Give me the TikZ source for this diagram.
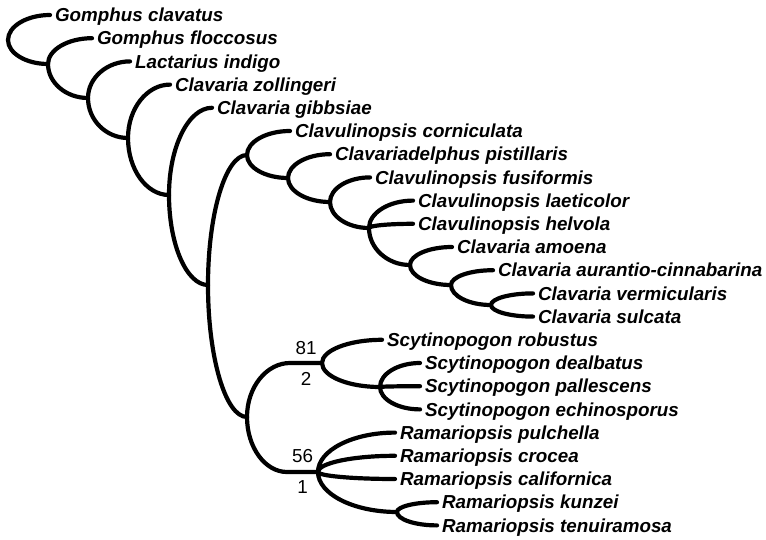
\documentclass[tikz,border=0pt]{standalone}
\usepackage{fontspec}
\setmainfont{Liberation Sans}
\usetikzlibrary{calc}

\begin{document}
\begin{tikzpicture}[x=1pt,y=-1pt,line width=4.2pt,line cap=round,
  taxon/.style={anchor=west,inner sep=3pt,text height=13.4pt,text depth=0pt,font=\fontsize{18.8}{22}\selectfont\bfseries\itshape},
  supp/.style={inner sep=2pt,font=\fontsize{18.8}{22}\selectfont},
  arm/.style={to path={.. controls ($(\tikztostart)!.55!(\tikztostart|-\tikztotarget)$) and ($(\tikztotarget)!.55!(\tikztostart|-\tikztotarget)$) .. (\tikztotarget)}}]
\useasboundingbox (0,0) rectangle (766,540);
\node[taxon] (gc) at (50,15) {Gomphus clavatus};
\node[taxon] (gf) at (92,38.2) {Gomphus floccosus};
\node[taxon] (li) at (130,61.4) {Lactarius indigo};
\node[taxon] (cz) at (170,84.6) {Clavaria zollingeri};
\node[taxon] (cg) at (212,107.8) {Clavaria gibbsiae};
\node[taxon] (cc) at (290,131) {Clavulinopsis corniculata};
\node[taxon] (cp) at (330,154.2) {Clavariadelphus pistillaris};
\node[taxon] (cf) at (370,177.4) {Clavulinopsis fusiformis};
\node[taxon] (cl) at (413,200.6) {Clavulinopsis laeticolor};
\node[taxon] (ch) at (413,223.8) {Clavulinopsis helvola};
\node[taxon] (ca) at (452,247) {Clavaria amoena};
\node[taxon] (cac) at (493,270.2) {Clavaria aurantio-cinnabarina};
\node[taxon] (cv) at (533,293.4) {Clavaria vermicularis};
\node[taxon] (cs) at (533,316.6) {Clavaria sulcata};
\node[taxon] (sr) at (382,339.8) {Scytinopogon robustus};
\node[taxon] (sd) at (420,363) {Scytinopogon dealbatus};
\node[taxon] (sp) at (420,386.2) {Scytinopogon pallescens};
\node[taxon] (se) at (420,409.4) {Scytinopogon echinosporus};
\node[taxon] (rp) at (395,432.6) {Ramariopsis pulchella};
\node[taxon] (rc) at (395,455.8) {Ramariopsis crocea};
\node[taxon] (rca) at (395,479) {Ramariopsis californica};
\node[taxon] (rk) at (437,502.2) {Ramariopsis kunzei};
\node[taxon] (rt) at (437,525.4) {Ramariopsis tenuiramosa};
\coordinate (n1) at (8,40);
\coordinate (n2) at (48,64);
\coordinate (n3) at (88,98);
\coordinate (n4) at (128,138);
\coordinate (n5) at (169,195);
\coordinate (n6) at (208,285);
\coordinate (n7) at (247,155);
\coordinate (n9) at (288,178);
\coordinate (n10) at (330,202);
\coordinate (n11) at (369,228);
\coordinate (n12) at (410,265);
\coordinate (n13) at (451,285);
\coordinate (n14) at (491,305);
\coordinate (n8) at (247,417);
\coordinate (e1) at (290,363);
\coordinate (n15) at (322,363);
\coordinate (n17) at (380,387);
\coordinate (e2) at (287,472);
\coordinate (n16) at (318,472);
\coordinate (n18) at (397,512);
\draw (n1) to[arm] (gc.west) (n1) to[arm] (n2);
\draw (n2) to[arm] (gf.west) (n2) to[arm] (n3);
\draw (n3) to[arm] (li.west) (n3) to[arm] (n4);
\draw (n4) to[arm] (cz.west) (n4) to[arm] (n5);
\draw (n5) to[arm] (cg.west) (n5) to[arm] (n6);
\draw (n6) to[arm] (n7) (n6) to[arm] (n8);
\draw (n7) to[arm] (cc.west) (n7) to[arm] (n9);
\draw (n9) to[arm] (cp.west) (n9) to[arm] (n10);
\draw (n10) to[arm] (cf.west) (n10) to[arm] (n11);
\draw (n11) to[arm] (cl.west) (n11) to[arm] (ch.west) (n11) to[arm] (n12);
\draw (n12) to[arm] (ca.west) (n12) to[arm] (n13);
\draw (n13) to[arm] (cac.west) (n13) to[arm] (n14);
\draw (n14) to[arm] (cv.west) (n14) to[arm] (cs.west);
\draw (n8) to[arm] (e1) -- (n15) node[midway,above=4pt,supp]{81} node[midway,below=5pt,supp]{2};
\draw (n8) to[arm] (e2) -- (n16) node[midway,above=5pt,supp]{56} node[midway,below=4pt,supp]{1};
\draw (n15) to[arm] (sr.west) (n15) to[arm] (n17);
\draw (n17) to[arm] (sd.west) (n17) to[arm] (sp.west) (n17) to[arm] (se.west);
\draw (n16) to[arm] (rp.west) (n16) to[arm] (rc.west) (n16) to[arm] (rca.west) (n16) to[arm] (n18);
\draw (n18) to[arm] (rk.west) (n18) to[arm] (rt.west);
\end{tikzpicture}
\end{document}
